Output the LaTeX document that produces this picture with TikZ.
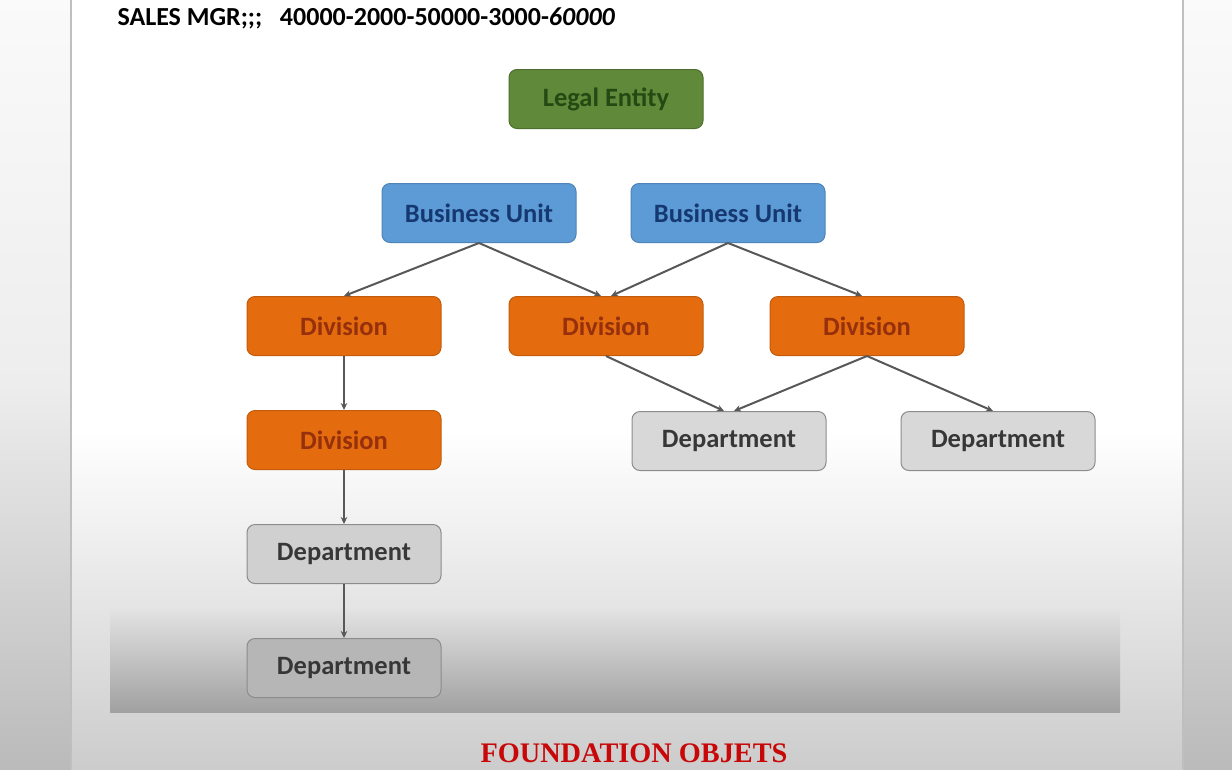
\documentclass[tikz,border=0pt]{standalone}
\usepackage{fontspec}
\setmainfont{Carlito}
\newfontfamily\captionfont{Liberation Serif}
\usetikzlibrary{positioning,arrows.meta}

\definecolor{entitygreen}{RGB}{96,138,58}
\definecolor{entitytext}{RGB}{36,74,20}
\definecolor{unitblue}{RGB}{93,155,214}
\definecolor{unittext}{RGB}{22,56,112}
\definecolor{divorange}{RGB}{228,108,14}
\definecolor{divtext}{RGB}{150,48,12}
\definecolor{deptlight}{RGB}{216,216,216}
\definecolor{deptmid}{RGB}{208,208,208}
\definecolor{deptdark}{RGB}{182,182,182}
\definecolor{depttext}{RGB}{55,55,55}
\definecolor{linkgray}{RGB}{88,88,88}
\definecolor{captionred}{RGB}{200,8,8}

\pgfdeclareverticalshading{outershade}{100bp}{color(0bp)=(black!27); color(25bp)=(black!27); color(50bp)=(black!7); color(75bp)=(black!2); color(100bp)=(black!2)}
\pgfdeclareverticalshading{pageshade}{100bp}{color(0bp)=(black!20); color(25bp)=(black!20); color(47bp)=(white); color(100bp)=(white)}
\pgfdeclareverticalshading{panelshade}{100bp}{color(0bp)=(black!37); color(25bp)=(black!37); color(75bp)=(black!10); color(100bp)=(black!10)}

\begin{document}
\begin{tikzpicture}[x=1pt, y=-1pt,
    box/.style={rectangle, rounded corners=8pt, minimum width=194pt, minimum height=59pt,
        line width=1pt, font=\fontsize{26.5}{30}\selectfont\bfseries},
    entity/.style={box, fill=entitygreen, draw=entitygreen!80!black, text=entitytext},
    unit/.style={box, fill=unitblue, draw=unitblue!85!black, text=unittext},
    division/.style={box, fill=divorange, draw=divorange!85!black, text=divtext},
    dept/.style={box, fill=#1, draw=black!45, text=depttext},
    dept/.default=deptlight,
    link/.style={draw=linkgray, line width=2pt, -{Stealth[length=7pt,width=6.5pt]}}]
    \useasboundingbox (0,0) rectangle (1232,769);

    % Background
    \shade[shading=outershade] (0,0) rectangle (1232,769);
    \shade[shading=pageshade] (71,0) rectangle (1183,769);
    \shade[shading=panelshade] (110,605) rectangle (1120,712);
    \draw[black!25, line width=1.5pt] (71,0) -- (71,769);
    \draw[black!25, line width=1.5pt] (1183,0) -- (1183,769);

    % Title
    \node[anchor=base west, font=\fontsize{26}{30}\selectfont\bfseries] (title) at (114,25)
        {SALES MGR;;;\ \ \ 40000-2000-50000-3000-\textit{60000}};

    % Hierarchy
    \node[entity] (legal) at (606,99) {Legal Entity};
    \node[unit] (bu1) at (479,213) {Business Unit};
    \node[unit] (bu2) at (728,213) {Business Unit};
    \node[division] (div1) at (344,326) {Division};
    \node[division] (div2) at (606,326) {Division};
    \node[division] (div3) at (867,326) {Division};
    \node[division, below=54pt of div1] (div4) {Division};
    \node[dept] (dep1) at (729,441) {Department};
    \node[dept] (dep2) at (998,441) {Department};
    \node[dept=deptmid, below=54pt of div4] (dep3) {Department};
    \node[dept=deptdark, below=54pt of dep3] (dep4) {Department};

    % Links
    \draw[link] (bu1.south) -- (div1.north);
    \draw[link] (bu1.south) -- ([xshift=-5pt]div2.north);
    \draw[link] (bu2.south) -- ([xshift=5pt]div2.north);
    \draw[link] (bu2.south) -- ([xshift=-5pt]div3.north);
    \draw[link] (div2.south) -- ([xshift=-5pt]dep1.north);
    \draw[link] (div3.south) -- ([xshift=5pt]dep1.north);
    \draw[link] (div3.south) -- ([xshift=-5pt]dep2.north);
    \draw[link] (div1) -- (div4);
    \draw[link] (div4) -- (dep3);
    \draw[link] (dep3) -- (dep4);

    % Caption
    \node[anchor=base, text=captionred, font=\captionfont\fontsize{28.3}{30}\selectfont\bfseries] (caption) at (634,762)
        {FOUNDATION OBJETS};
\end{tikzpicture}
\end{document}
